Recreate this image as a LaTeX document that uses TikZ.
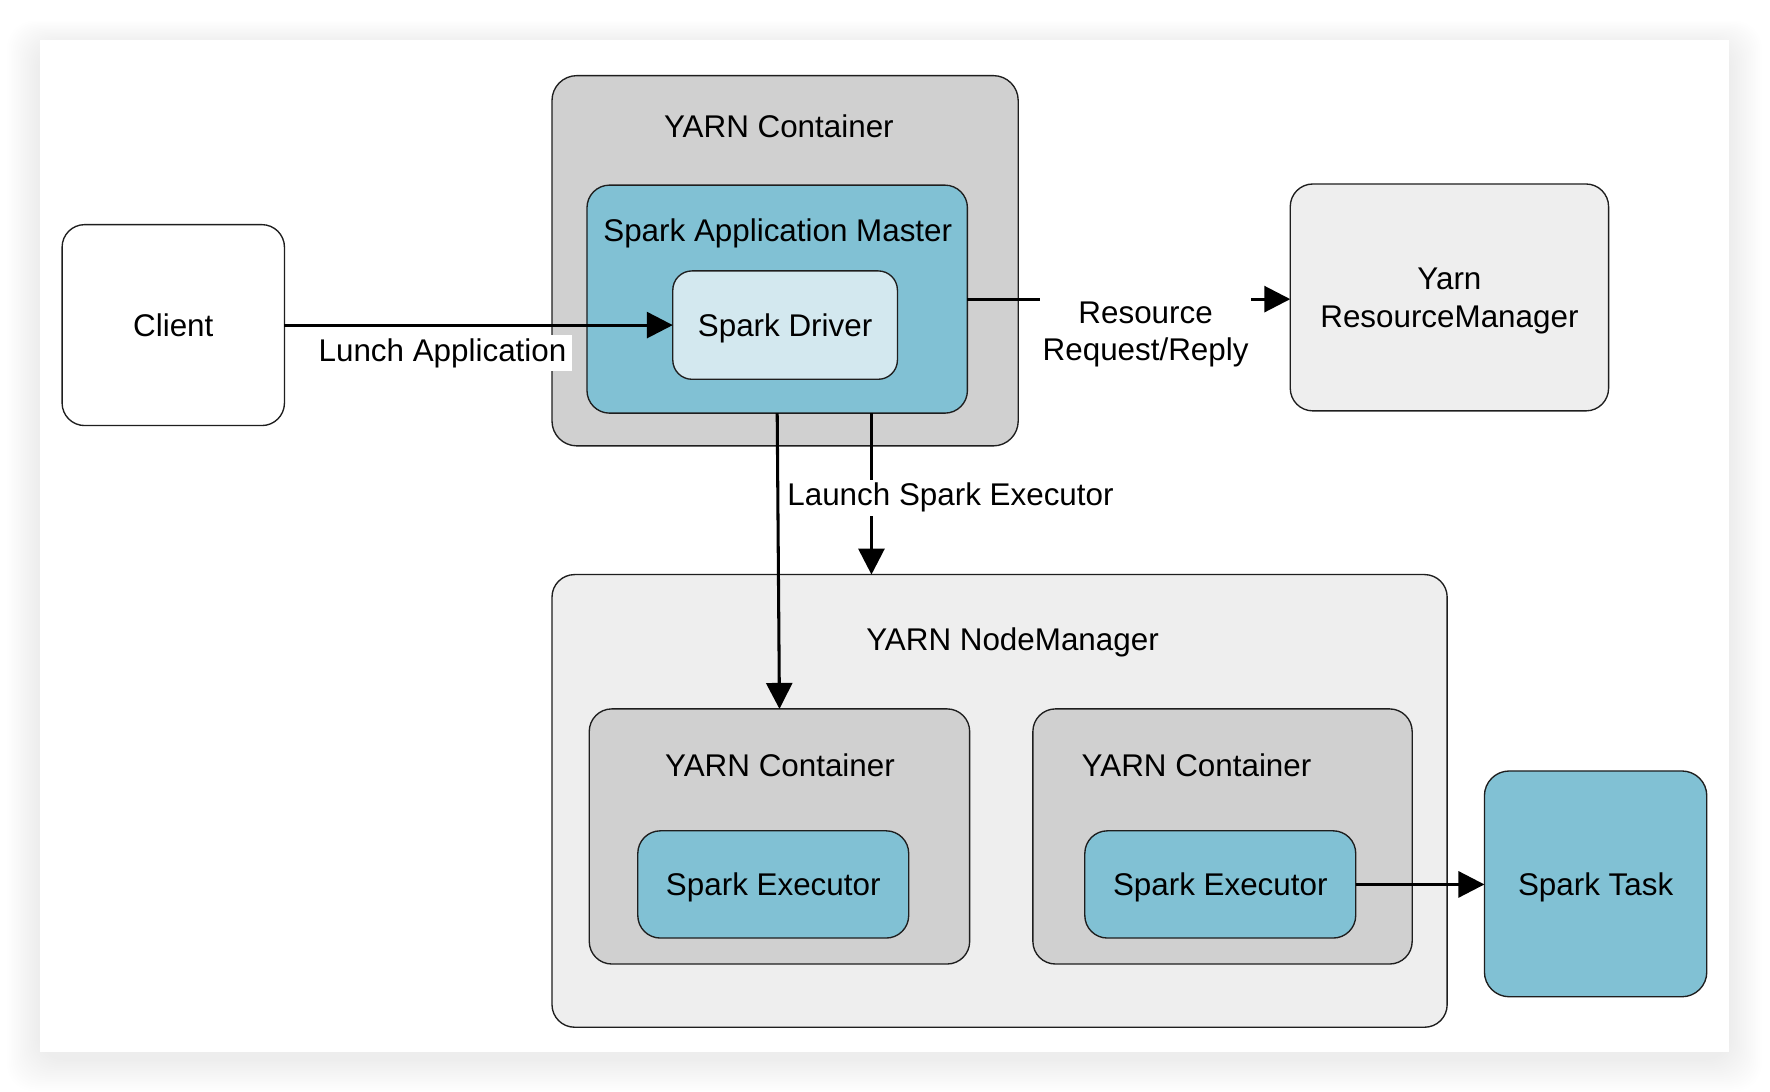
\documentclass[tikz,border=0pt]{standalone}
\usepackage{fontspec}
\setmainfont{Liberation Sans}
\usetikzlibrary{arrows.meta,calc}
\definecolor{tealc}{RGB}{129,193,212}
\definecolor{drvc}{RGB}{211,232,239}
\definecolor{grayc}{RGB}{208,208,208}
\definecolor{lightc}{RGB}{238,238,238}
\definecolor{edgec}{RGB}{30,30,30}
\begin{document}
\begin{tikzpicture}[x=0.5pt,y=-0.5pt,
  every node/.style={font=\fontsize{13.9}{16.5}\selectfont},
  box/.style={draw=edgec, line width=0.6pt, rounded corners=10pt, inner sep=0pt, outer sep=0pt, anchor=north west, align=center},
  one/.style={text height=13pt, text depth=2.9pt},
  lone/.style={text height=10pt, text depth=2.9pt},
  arr/.style={draw=black, line width=1.35pt, -{Triangle[length=11.5pt,width=11.5pt]}},
  lbl/.style={fill=white, inner xsep=1pt, inner ysep=1.5pt, align=center},
  ttl/.style={inner sep=0pt}]
\useasboundingbox (0,0) rectangle (1568,967);
% card with soft shadow
\fill[white] (0,0) rectangle (1568,967);
\foreach \i in {1,...,18}
  \fill[black, opacity=0.0042, rounded corners=12pt] (35-\i*1.6,35-\i*1.2+5) rectangle (1532+\i*1.6,932+\i*1.6+6);
\fill[white] (35,35) rectangle (1532,932);

% boxes
\node[box, one, fill=white, minimum width=98.5pt, minimum height=89pt] (client) at (55,199) {Client};
\node[box, fill=grayc, minimum width=206.5pt, minimum height=164pt, rounded corners=11pt] (topc) at (489,67) {};
\node[box, fill=tealc, minimum width=168.5pt, minimum height=101pt] (am) at (520,164) {};
\node[box, one, fill=drvc, minimum width=99.5pt, minimum height=48pt, rounded corners=8.5pt] (driver) at (596,240) {Spark Driver};
\node[box, text height=29.3pt, text depth=2.9pt, fill=lightc, minimum width=141pt, minimum height=100.5pt] (rm) at (1143,163) {Yarn\\ResourceManager};
\node[box, fill=lightc, minimum width=396.5pt, minimum height=200.5pt] (nm) at (489,509) {};
\node[box, fill=grayc, minimum width=168.5pt, minimum height=113pt] (c1) at (522,628) {};
\node[box, fill=grayc, minimum width=168pt, minimum height=113pt] (c2) at (915,628) {};
\node[box, one, fill=tealc, minimum width=120pt, minimum height=47.5pt] (e1) at (565,736) {Spark Executor};
\node[box, one, fill=tealc, minimum width=120pt, minimum height=47.5pt] (e2) at (961,736) {Spark Executor};
\node[box, one, fill=tealc, minimum width=98.5pt, minimum height=100pt, rounded corners=11pt] (task) at (1315,683) {Spark Task};

% titles
\node[ttl, one] (t1) at (690,112) {YARN Container};
\node[ttl, one] (tam) at (689,204) {Spark Application Master};
\node[ttl, one] (tnm) at (897,566) {YARN NodeManager};
\node[ttl, one] (tc1) at (691,678) {YARN Container};
\node[ttl, one] (tc2) at (1060,678) {YARN Container};

% connectors
\draw[arr] (client.east) -- node[lbl, lone, pos=0.407, yshift=-12.5pt, inner xsep=2.5pt] {Lunch Application} (driver.west);
\draw[arr] (am.east) -- node[lbl, pos=0.552, yshift=-15.5pt, inner ysep=4.5pt] {Resource\\Request/Reply} (am.east -| rm.west);
\draw[arr] (am.south) -- (c1.north);
\draw[arr] ([xshift=41.75pt]am.south) -- node[lbl, lone, pos=0.503, xshift=35pt, yshift=-1.5pt] {Launch Spark Executor} ([xshift=-56.75pt]nm.north);
\draw[arr] (e2.east) -- (e2.east -| task.west);
\end{tikzpicture}
\end{document}
